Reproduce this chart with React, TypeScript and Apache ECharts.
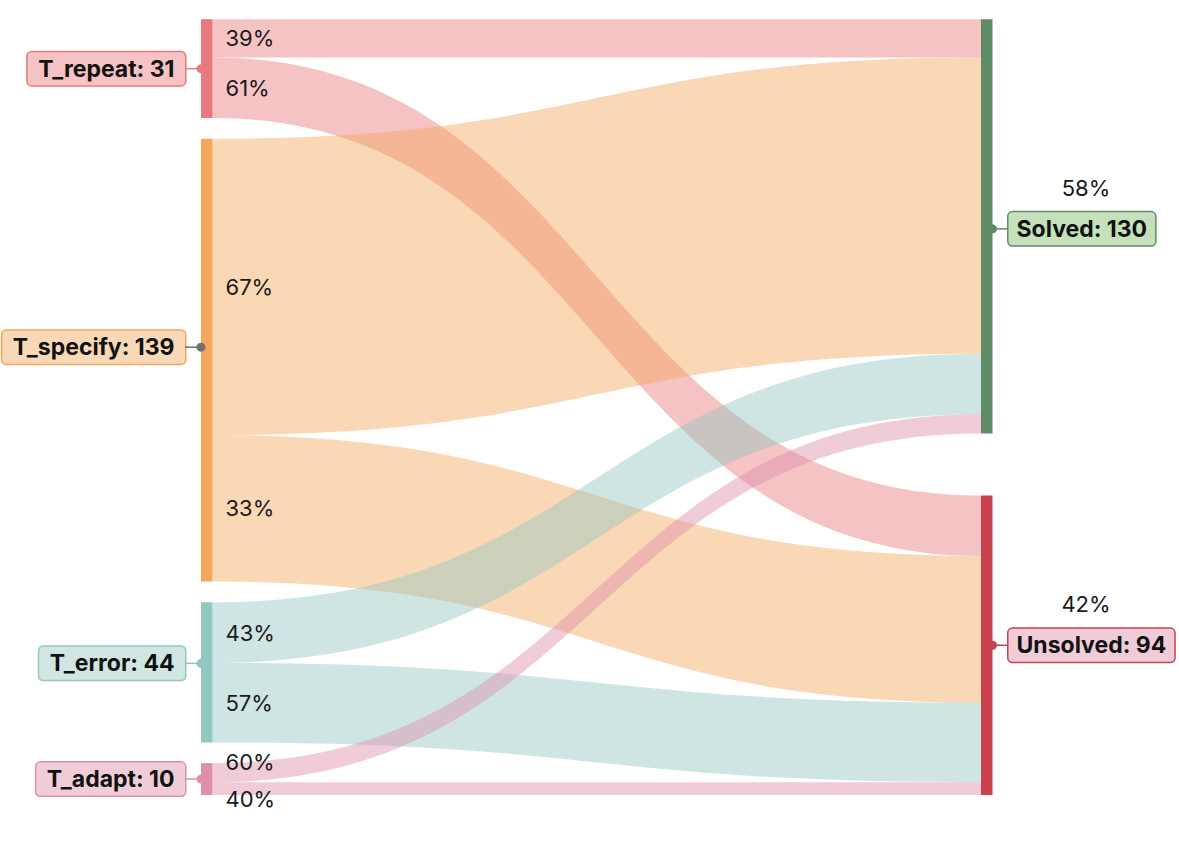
import React, { useEffect, useRef } from "react";
import * as echarts from "echarts";

// ---- data ----
const sourceNames = ["T_repeat", "T_specify", "T_error", "T_adapt"];
const targetNames = ["Solved", "Unsolved"];
const solvedCounts = [12, 93, 19, 6];
const unsolvedCounts = [19, 46, 25, 4];

// ---- styles ----
const sourceColors = ["#E8797C", "#F4A65A", "#94C6C2", "#DE8FAB"];
const sourceLight = ["#F5C3C4", "#F9D8B7", "#D0E6E3", "#F0CCD9"];
const sourceDot = ["#E8797C", "#707070", "#94C6C2", "#DE8FAB"];
const targetColors = ["#5F8C66", "#C8414F"];
const targetLight = ["#C4E1BC", "#F0CCD9"];
// small vertical nudges of the node label boxes (px)
const sourceLabelNudge = [0, -13, -9, 0];
const targetLabelNudge = [2.5, 0];

const FONT = "Inter, 'Noto Sans', sans-serif";
const LABEL_GAP = 16;
const LABEL_SIZE = 23;
const PCT_SIZE = 22;

const sum = (a: number[]) => a.reduce((s, v) => s + v, 0);

const App = () => {
  const ref = useRef<HTMLDivElement>(null);

  useEffect(() => {
    const chart = echarts.init(ref.current!, null, { renderer: "svg" });
    const L = 201, T = 19.3, W = 791.5, H = 775.7, GAP = 20.7, NW = 11.5;
    const sourceTotals = sourceNames.map((_, i) => solvedCounts[i] + unsolvedCounts[i]);
    const targetTotals = [sum(solvedCounts), sum(unsolvedCounts)];
    const total = sum(sourceTotals);
    const ky = (H - (sourceNames.length - 1) * GAP) / total;

    const labelBase = {
      fontFamily: FONT,
      fontWeight: "bold" as const,
      fontSize: LABEL_SIZE,
      lineHeight: 25,
      color: "#111",
      borderWidth: 1.5,
      borderRadius: 4,
      padding: [5, 10.5, 3, 10.5],
      distance: LABEL_GAP,
    };

    const nodes: any[] = [];
    sourceNames.forEach((name, i) => {
      nodes.push({
        name,
        itemStyle: { color: sourceColors[i], borderWidth: 0 },
        label: {
          ...labelBase,
          position: "left",
          offset: [0, sourceLabelNudge[i]],
          formatter: `${name}: ${sourceTotals[i]}`,
          backgroundColor: sourceLight[i],
          borderColor: sourceColors[i],
        },
      });
    });
    targetNames.forEach((name, j) => {
      const node: any = {
        name,
        itemStyle: { color: targetColors[j], borderWidth: 0 },
        label: {
          ...labelBase,
          padding: [5, 8, 3, 8],
          position: "right",
          offset: [0, targetLabelNudge[j]],
          formatter: `${name}: ${targetTotals[j]}`,
          backgroundColor: targetLight[j],
          borderColor: targetColors[j],
        },
      };
      if (j === targetNames.length - 1) {
        // bottom-align the last target node
        node.localY = (H - targetTotals[j] * ky) / H;
      }
      nodes.push(node);
    });

    const links: any[] = [];
    sourceNames.forEach((s, i) => {
      links.push({ source: s, target: targetNames[0], value: solvedCounts[i] });
      links.push({ source: s, target: targetNames[1], value: unsolvedCounts[i] });
    });

    chart.setOption({
      animation: false,
      series: [
        {
          type: "sankey",
          left: L,
          top: T,
          width: W,
          height: H,
          nodeWidth: NW,
          nodeGap: GAP,
          layoutIterations: 0,
          draggable: false,
          emphasis: { disabled: true },
          lineStyle: { color: "source", opacity: 0.45, curveness: 0.5 },
          data: nodes,
          links,
        },
      ],
    });

    // overlays computed from the library's own layout
    const seriesModel = (chart as any).getModel().getSeriesByIndex(0);
    const graph = seriesModel.getGraph();
    const rect = seriesModel.layoutInfo;

    const graphics: any[] = [];
    const nodeY = (node: any) => {
      const ly = node.getModel().get("localY");
      return ly != null ? ly * rect.height : node.getLayout().y;
    };

    graph.nodes.forEach((node: any) => {
      const lay = node.getLayout();
      const nm = seriesModel.getData().getName(node.dataIndex);
      const y0 = rect.y + nodeY(node);
      const cy = y0 + lay.dy / 2;
      const si = sourceNames.indexOf(nm);
      const ti = targetNames.indexOf(nm);
      if (si >= 0) {
        const x = rect.x + lay.x;
        const ly = cy + sourceLabelNudge[si];
        graphics.push({
          type: "line",
          z: 100,
          shape: { x1: x - LABEL_GAP, y1: ly, x2: x, y2: ly },
          style: { stroke: sourceDot[si], lineWidth: 1.5 },
        });
        graphics.push({
          type: "circle",
          z: 101,
          shape: { cx: x, cy: ly, r: 4.5 },
          style: { fill: sourceDot[si] },
        });
        // percent labels on outgoing links
        const outs = node.outEdges
          .slice()
          .sort((a: any, b: any) => a.getLayout().sy - b.getLayout().sy);
        const ys = outs.map((e: any) => y0 + e.getLayout().sy + e.getLayout().dy / 2);
        for (let k = 1; k < ys.length; k++) {
          if (ys[k] - ys[k - 1] < 37) {
            const mid = (ys[k] + ys[k - 1]) / 2;
            ys[k - 1] = mid - 18.5;
            ys[k] = mid + 18.5;
          }
        }
        outs.forEach((e: any, k: number) => {
          const pct = Math.round((e.getValue() / sourceTotals[si]) * 100);
          graphics.push({
            type: "text",
            z: 100,
            x: x + lay.dx + 13,
            y: ys[k],
            style: {
              text: `${pct}%`,
              font: `${PCT_SIZE}px ${FONT}`,
              fill: "#1a1a1a",
              textAlign: "left",
              textVerticalAlign: "middle",
            },
          });
        });
      } else if (ti >= 0) {
        const x = rect.x + lay.x + lay.dx;
        const ly = cy + targetLabelNudge[ti];
        graphics.push({
          type: "line",
          z: 100,
          shape: { x1: x, y1: ly, x2: x + LABEL_GAP, y2: ly },
          style: { stroke: targetColors[ti], lineWidth: 1.5 },
        });
        graphics.push({
          type: "circle",
          z: 101,
          shape: { cx: x, cy: ly, r: 4.5 },
          style: { fill: targetColors[ti] },
        });
        const pct = Math.round((targetTotals[ti] / total) * 100);
        graphics.push({
          type: "text",
          z: 100,
          x: x + 93.5,
          y: ly - 41,
          style: {
            text: `${pct}%`,
            font: `${PCT_SIZE}px ${FONT}`,
            fill: "#1a1a1a",
            textAlign: "center",
            textVerticalAlign: "middle",
          },
        });
      }
    });

    chart.setOption({ graphic: graphics });

    return () => chart.dispose();
  }, []);

  return (
    <div
      ref={ref}
      style={{ position: "absolute", left: 0, top: 0, width: 1179, height: 844 }}
    />
  );
};

export default App;
